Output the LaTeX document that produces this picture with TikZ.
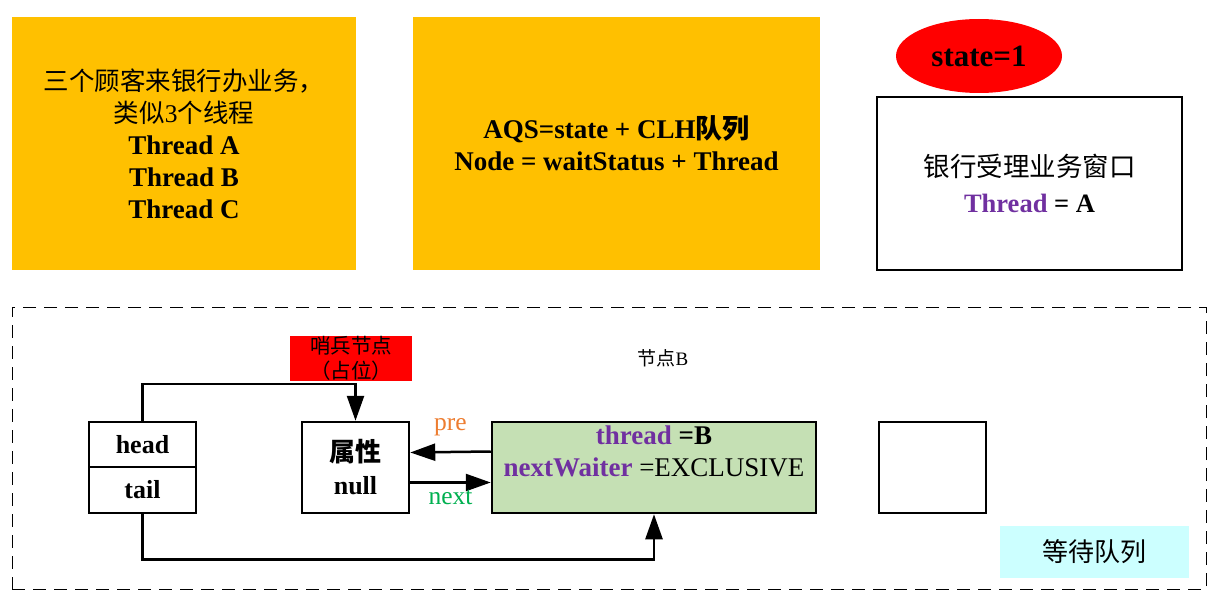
\documentclass[tikz,border=0pt]{standalone}
\usepackage{fontspec}
\setmainfont{Liberation Serif}
\newfontfamily\cjk{Noto Sans CJK SC}
\usetikzlibrary{shapes.geometric,arrows.meta}
\definecolor{gold}{RGB}{255,192,0}
\definecolor{leaf}{RGB}{197,224,180}
\definecolor{ice}{RGB}{204,255,255}
\definecolor{thpurple}{RGB}{112,48,160}
\definecolor{preorange}{RGB}{237,125,49}
\definecolor{nextgreen}{RGB}{0,176,80}
\tikzstyle{card} = [fill=gold, minimum height=253pt, align=center, font={\fontsize{27}{32}\selectfont}]
\tikzstyle{oval} = [ellipse, fill=red, minimum width=166pt, minimum height=74pt, inner sep=0pt, font={\fontsize{31}{34}\selectfont\bfseries}]
\tikzstyle{window} = [draw, line width=2.5pt, minimum width=305pt, minimum height=173pt, align=center, font={\fontsize{26.5}{36}\selectfont}]
\tikzstyle{cell} = [draw, line width=2.5pt, fill=white, minimum width=107pt, align=center, font={\fontsize{26}{33}\selectfont\bfseries}]
\tikzstyle{tag} = [inner sep=0pt, align=center, font={\fontsize{20.5}{25}\selectfont}]
\tikzstyle{link} = [line width=2.5pt, -{Triangle[length=25pt,width=17pt]}]

\begin{document}
\begin{tikzpicture}[x=1pt,y=-1pt]
  \useasboundingbox (0,0) rectangle (1227,607);
  \node[card,minimum width=344pt](customers) at (184,143.5){{\cjk\fontsize{25.5}{30}\selectfont 三个顾客来银行办业务，}\\{\fontsize{25.5}{30}\selectfont{\cjk 类似}3{\cjk 个线程}}\\\textbf{Thread A}\\\textbf{Thread B}\\\textbf{Thread C}};
  \node[card,minimum width=407pt,font={\fontsize{27}{32}\selectfont\bfseries}](aqs) at (616.5,143.5){AQS=state + CLH{\cjk\bfseries 队列}\\Node = waitStatus + Thread};
  \node[oval](state) at (979,56){state=1};
  \node[window](window) at (1029.5,183.5){{\cjk 银行受理业务窗口}\\\textbf{\textcolor{thpurple}{Thread} = A}};
  \node[draw,dashed,line width=1pt,dash pattern=on 13pt off 8pt,minimum width=1194pt,minimum height=282pt](queue) at (609,448){};
  \node[tag,fill=red,minimum width=122pt,minimum height=45pt](sentinel) at (351,358.5){{\cjk 哨兵节点}\\{\cjk （占位）}};
  \node[tag,font={\fontsize{19}{25}\selectfont}](labelB) at (663,358){{\cjk 节点}B};
  \node[cell,minimum height=45pt](head) at (142.5,444.5){head};
  \node[cell,minimum height=46pt](tail) at (142.5,490){tail};
  \node[cell,minimum height=91pt](attr) at (355.5,467.5){{\cjk\bfseries 属性}\\null};
  \node[cell,fill=leaf,inner sep=0pt,minimum width=324pt,minimum height=91pt,font={\fontsize{27}{32}\selectfont}](nodeb) at (654,467.5){\textbf{\textcolor{thpurple}{thread} =B}\\\textbf{\textcolor{thpurple}{nextWaiter}} =EXCLUSIVE\\\mbox{}};
  \node[cell,minimum height=91pt](spare) at (932.5,467.5){};
  \node[fill=ice,minimum width=189pt,minimum height=52pt,font={\fontsize{26}{30}\selectfont}](waitq) at (1094.5,552){{\cjk 等待队列}};
  \draw[link](head.north)--++(0,-37)-|(attr.north);
  \draw[link]([yshift=16pt]nodeb.west)--([yshift=15pt]attr.east)node[midway,above=11pt,text=preorange,font={\fontsize{25.5}{28}\selectfont}]{pre};
  \draw[link]([yshift=-15pt]attr.east)--([yshift=-15pt]nodeb.west)node[midway,below=3pt,text=nextgreen,font={\fontsize{25.5}{28}\selectfont}]{next};
  \draw[link](tail.south)--++(0,45)-|(nodeb.south);
\end{tikzpicture}
\end{document}
